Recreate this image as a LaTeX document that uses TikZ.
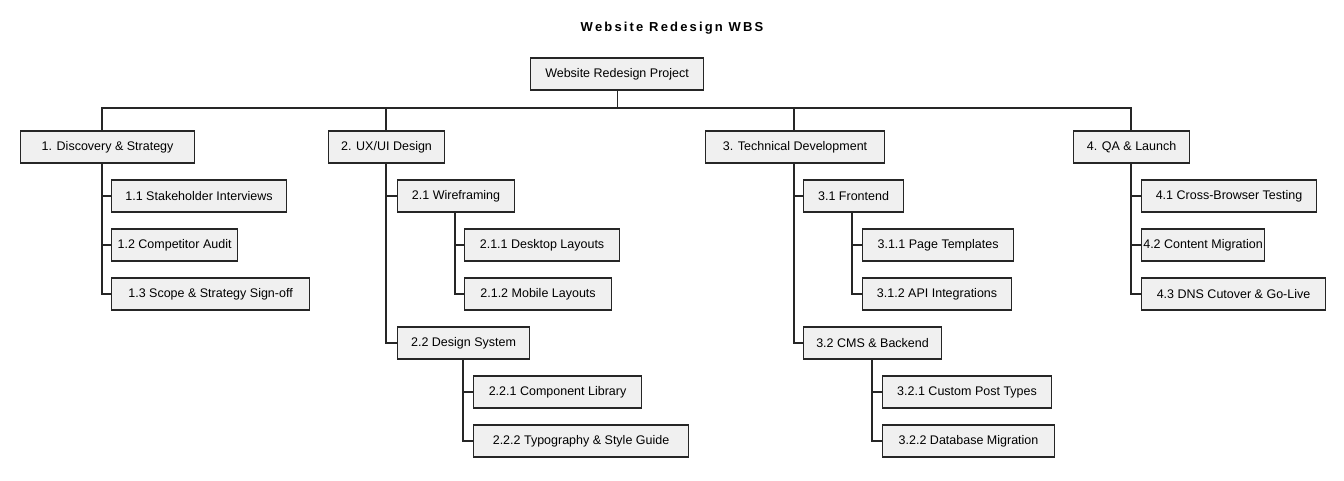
\documentclass[tikz,border=0pt]{standalone}
\usepackage{fontspec}
\setmainfont{Liberation Sans}
\begin{document}
\begin{tikzpicture}[x=1pt,y=-1pt,
 b/.style={draw=black!85,fill=black!6,line width=1.1pt,minimum height=32pt,inner sep=0pt,font=\fontsize{12.5}{14}\selectfont,anchor=west},
 l/.style={line width=1.1pt,draw=black!85}]
\useasboundingbox (0,0) rectangle (1344,480);
\node[font=\bfseries\fontsize{13}{15}\selectfont] (t) at (672,28) {W\,e\,b\,s\,i\,t\,e\, R\,e\,d\,e\,s\,i\,g\,n\, W\,B\,S};
\node[b,minimum width=173pt] (r) at (530,74) {Website Redesign Project};
\node[b,minimum width=174pt] (a) at (20,147) {1. Discovery \& Strategy};
\node[b,minimum width=116pt] (b) at (328,147) {2. UX/UI Design};
\node[b,minimum width=179pt] (c) at (705,147) {3. Technical Development};
\node[b,minimum width=116pt] (d) at (1073,147) {4. QA \& Launch};
\node[b,minimum width=175pt] (a1) at (111,196) {1.1 Stakeholder Interviews};
\node[b,minimum width=126pt] (a2) at (111,245) {1.2 Competitor Audit};
\node[b,minimum width=198pt] (a3) at (111,294) {1.3 Scope \& Strategy Sign-off};
\node[b,minimum width=117pt] (b1) at (397,196) {2.1 Wireframing};
\node[b,minimum width=155pt] (b11) at (464,245) {2.1.1 Desktop Layouts};
\node[b,minimum width=147pt] (b12) at (464,294) {2.1.2 Mobile Layouts};
\node[b,minimum width=132pt] (b2) at (397,343) {2.2 Design System};
\node[b,minimum width=168pt] (b21) at (473,392) {2.2.1 Component Library};
\node[b,minimum width=215pt] (b22) at (473,441) {2.2.2 Typography \& Style Guide};
\node[b,minimum width=100pt] (c1) at (803,196) {3.1 Frontend};
\node[b,minimum width=151pt] (c11) at (862,245) {3.1.1 Page Templates};
\node[b,minimum width=149pt] (c12) at (862,294) {3.1.2 API Integrations};
\node[b,minimum width=138pt] (c2) at (803,343) {3.2 CMS \& Backend};
\node[b,minimum width=169pt] (c21) at (882,392) {3.2.1 Custom Post Types};
\node[b,minimum width=172pt] (c22) at (882,441) {3.2.2 Database Migration};
\node[b,minimum width=175pt] (d1) at (1141,196) {4.1 Cross-Browser Testing};
\node[b,minimum width=123pt] (d2) at (1141,245) {4.2 Content Migration};
\node[b,minimum width=184pt] (d3) at (1141,294) {4.3 DNS Cutover \& Go-Live};
% bus
\coordinate (bl) at (102,108); \coordinate (br) at (1131,108);
\draw[l] (r.south) -- (r.south|-bl);
\draw[l] (a.north-|bl) -- (bl) -- (br) -- (d.north-|br);
\draw[l] (386,108) -- (b.north-|386,0);
\draw[l] (794,108) -- (c.north-|794,0);
% children
\draw[l] (a.south-|102,0) |- (a3.west); \draw[l] (102,196) -- (a1.west); \draw[l] (102,245) -- (a2.west);
\draw[l] (b.south-|386,0) |- (b2.west); \draw[l] (386,196) -- (b1.west);
\draw[l] (b1.south-|455,0) |- (b12.west); \draw[l] (455,245) -- (b11.west);
\draw[l] (b2.south-|463,0) |- (b22.west); \draw[l] (463,392) -- (b21.west);
\draw[l] (c.south-|794,0) |- (c2.west); \draw[l] (794,196) -- (c1.west);
\draw[l] (c1.south-|852,0) |- (c12.west); \draw[l] (852,245) -- (c11.west);
\draw[l] (c2.south-|872,0) |- (c22.west); \draw[l] (872,392) -- (c21.west);
\draw[l] (d.south-|1131,0) |- (d3.west); \draw[l] (1131,196) -- (d1.west); \draw[l] (1131,245) -- (d2.west);
\end{tikzpicture}
\end{document}
